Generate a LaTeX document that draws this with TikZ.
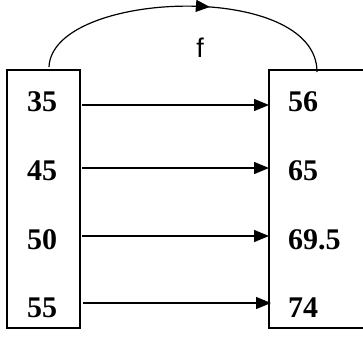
\documentclass[tikz,border=0pt]{standalone}
\usepackage{fontspec}
\setmainfont{Liberation Serif}
\newfontfamily\arialfont{Liberation Sans}
\usetikzlibrary{arrows.meta,decorations.markings}
\begin{document}
\begin{tikzpicture}[x=1pt,y=-1pt,
  box/.style={draw,line width=1.5pt,rectangle,inner sep=0pt},
  num/.style={font=\bfseries\fontsize{30}{30}\selectfont,inner sep=0pt},
  arr/.style={line width=1.3pt,-{Triangle[length=15pt,width=12pt]}},
  curve/.style={line width=1.2pt,postaction={decorate},
    decoration={markings,mark=at position 0.575 with {\arrow{Triangle[length=14pt,width=12pt]}}}}]
\useasboundingbox (0,0) rectangle (363,338);
% left box
\node[box,minimum width=73pt,minimum height=258pt] (L) at (43.5,199) {};
% right box (open on the right)
\coordinate (Rtr) at (363,70);
\coordinate (Rtl) at (269,70);
\coordinate (Rbl) at (269,328);
\coordinate (Rbr) at (363,328);
\draw[line width=1.5pt] (Rtr) -- (Rtl) -- (Rbl) -- (Rbr);
% numbers
\node[num,anchor=base] (a1) at (42,111) {35};
\node[num,anchor=base] (a2) at (42,180) {45};
\node[num,anchor=base] (a3) at (42,249) {50};
\node[num,anchor=base] (a4) at (42,317) {55};
\node[num,anchor=base west] (b1) at (288,111) {56};
\node[num,anchor=base west] (b2) at (288,180) {65};
\node[num,anchor=base west] (b3) at (288,249) {69.5};
\node[num,anchor=base west] (b4) at (288,317) {74};
% arrow endpoints
\coordinate (s1) at (82,105);  \coordinate (e1) at (269,105);
\coordinate (s2) at (82,168);  \coordinate (e2) at (269,168);
\coordinate (s3) at (82,236);  \coordinate (e3) at (269,236);
\coordinate (s4) at (83,303);  \coordinate (e4) at (271,303);
\draw[arr] (s1) -- (e1);
\draw[arr] (s2) -- (e2);
\draw[arr] (s3) -- (e3);
\draw[arr] (s4) -- (e4);
% curved arrow f
\coordinate (cs) at (49,67);
\coordinate (ce) at (317,72);
\draw[curve] (cs) .. controls (52,-10) and (317,-20) .. (ce);
\node[font=\arialfont\fontsize{27}{27}\selectfont,anchor=base,inner sep=0pt] (f) at (200,57) {f};
\end{tikzpicture}
\end{document}
